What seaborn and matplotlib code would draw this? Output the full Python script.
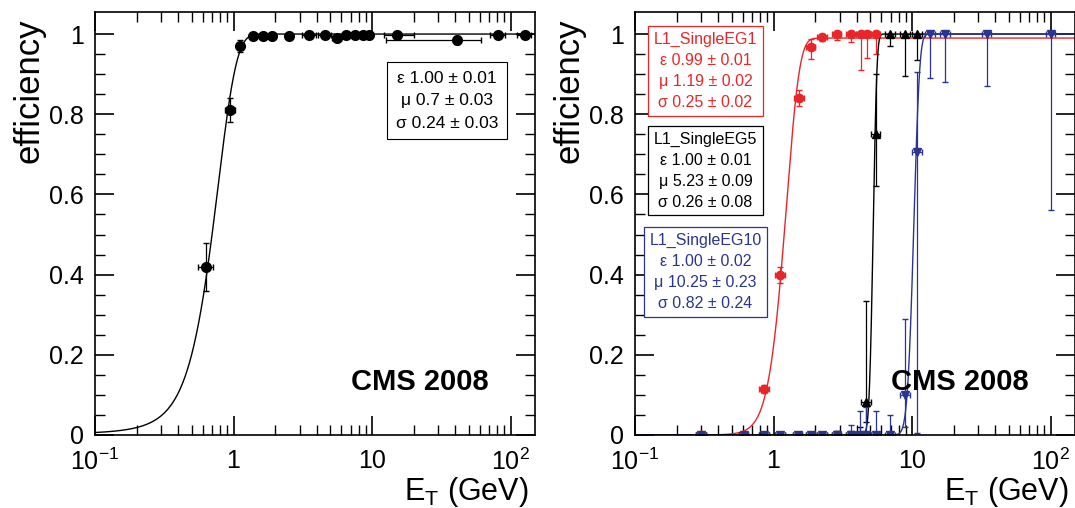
import numpy as np
import matplotlib
matplotlib.use("Agg")
import matplotlib.pyplot as plt
import seaborn as sns
from math import erf

sns.set_style("ticks")
plt.rcParams['font.family'] = ['Liberation Sans', 'DejaVu Sans']
plt.rcParams['mathtext.fontset'] = 'custom'
plt.rcParams['mathtext.rm'] = 'Liberation Sans'
for k in ['text.color', 'axes.labelcolor', 'xtick.color', 'ytick.color', 'axes.edgecolor']:
    plt.rcParams[k] = 'black'

# ---- left panel data ----
left_x = [0.63, 0.95, 1.12, 1.38, 1.63, 1.89, 2.5, 3.53, 4.54, 5.58, 6.53, 7.5, 8.6, 9.55, 15.1, 40.7, 81, 126]
left_y = [0.42, 0.81, 0.97, 0.995, 0.995, 0.995, 0.995, 0.997, 0.997, 0.99, 0.997, 0.997, 0.997, 0.997, 0.997, 0.985, 0.997, 0.997]
left_yerr = [0.06, 0.03, 0.015, 0.005, 0.005, 0.005, 0.005, 0.005, 0.005, 0.005, 0.005, 0.005, 0.005, 0.005, 0.005, 0.01, 0.005, 0.005]
left_xlo = [0.08, 0.08, 0.06, 0.05, 0.05, 0.05, 0.1, 0.4, 0.5, 0.4, 0.4, 0.4, 0.4, 0.4, 3, 28, 10, 15]
left_xhi = [0.08, 0.08, 0.06, 0.05, 0.05, 0.05, 0.1, 0.4, 0.5, 0.4, 0.4, 0.4, 0.4, 0.4, 5, 20, 10, 15]
left_fit = (1.00, 0.7, 0.24)

# ---- right panel data ----
red_x = [0.3, 0.61, 0.86, 1.12, 1.53, 1.85, 2.25, 2.85, 3.63, 4.26, 4.7, 5.45]
red_y = [0.0, 0.0, 0.115, 0.40, 0.84, 0.968, 0.993, 1.0, 1.0, 1.0, 1.0, 1.0]
red_ylo = [0.0, 0.0, 0.01, 0.02, 0.02, 0.03, 0.01, 0.015, 0.02, 0.09, 0.06, 0.05]
red_yhi = [0.003, 0.005, 0.01, 0.02, 0.02, 0.02, 0.005, 0.0, 0.0, 0.0, 0.0, 0.0]
red_fit = (0.99, 1.19, 0.25)

black_x = [0.3, 0.61, 0.86, 1.12, 1.49, 1.85, 2.25, 2.85, 3.63, 4.2, 4.66, 5.45, 6.96, 8.9, 10.9]
black_y = [0.0, 0.0, 0.0, 0.0, 0.0, 0.0, 0.0, 0.0, 0.0, 0.0, 0.083, 0.75, 1.0, 1.0, 1.0]
black_ylo = [0, 0, 0, 0, 0, 0, 0, 0, 0, 0, 0.05, 0.13, 0.03, 0.105, 0.065]
black_yhi = [0.005, 0.005, 0.005, 0.005, 0.005, 0.005, 0.005, 0.01, 0.01, 0.02, 0.25, 0.15, 0, 0, 0]
black_fit = (1.00, 5.23, 0.26)

blue_x = [0.3, 0.61, 0.86, 1.12, 1.49, 1.85, 2.25, 2.85, 3.63, 4.2, 4.66, 5.47, 6.96, 8.9, 10.9, 13.5, 17.4, 34.6, 100]
blue_y = [0.0, 0.0, 0.0, 0.0, 0.0, 0.0, 0.0, 0.0, 0.0, 0.0, 0.0, 0.0, 0.0, 0.10, 0.706, 1.0, 1.0, 1.0, 1.0]
blue_ylo = [0, 0, 0, 0, 0, 0, 0, 0, 0, 0, 0, 0, 0, 0.08, 0.7, 0.11, 0.12, 0.13, 0.44]
blue_yhi = [0.003, 0.003, 0.003, 0.003, 0.003, 0.003, 0.005, 0.01, 0.025, 0.06, 0.07, 0.06, 0.05, 0.19, 0.2, 0, 0, 0, 0]
blue_fit = (1.00, 10.25, 0.82)

RED = "#e8262a"
BLACK = "#000000"
BLUE = "#2b3591"

def fitcurve(params, xs):
    eps, mu, sig = params
    return np.array([eps / 2 * (1 + erf((x - mu) / (np.sqrt(2) * sig))) for x in xs])

fig = plt.figure(figsize=(10.75, 5.08), dpi=100)
axL = fig.add_axes([95/1075, 73/508, 440/1075, 423/508])
axR = fig.add_axes([635/1075, 73/508, 440/1075, 423/508])

xs = np.logspace(-1, np.log10(150), 1500)

def style(ax):
    ax.set_xscale("log")
    ax.set_xlim(0.1, 150)
    ax.set_ylim(0, 1.055)
    ax.set_yticks([0, 0.2, 0.4, 0.6, 0.8, 1.0])
    ax.set_yticklabels(["0", "0.2", "0.4", "0.6", "0.8", "1"])
    ax.set_yticks(np.arange(0, 1.05, 0.05), minor=True)
    ax.set_xticks([0.1, 1, 10, 100])
    ax.set_xticklabels(["$10^{-1}$", "1", "10", "$10^{2}$"])
    ax.tick_params(which="both", direction="in", top=True, right=True, labelsize=18)
    ax.tick_params(which="major", length=14, width=1.2)
    ax.tick_params(which="minor", length=7, width=1)
    ax.tick_params(axis="x", pad=10)
    ax.tick_params(axis="y", pad=8)
    for s in ax.spines.values():
        s.set_linewidth(1.2)
    ax.set_ylabel("efficiency", fontsize=25)
    ax.yaxis.set_label_coords(-0.112, 0.815)
    ax.set_xlabel("E$_\\mathrm{T}$ (GeV)", fontsize=22, ha="right")
    ax.xaxis.set_label_coords(0.985, -0.095)
    ax.text(0.895, 0.125, "CMS 2008", transform=ax.transAxes, fontsize=21,
            fontweight="bold", ha="right", va="center")

# left
sns.lineplot(x=xs, y=fitcurve(left_fit, xs), ax=axL, color="black", lw=1)
axL.errorbar(left_x, left_y, yerr=left_yerr, xerr=[left_xlo, left_xhi], fmt="o",
             color="black", ms=7, elinewidth=0.9, capsize=2)
style(axL)
axL.text(0.80, 0.79, "\u03b5 1.00 \u00b1 0.01\n\u03bc 0.7 \u00b1 0.03\n\u03c3 0.24 \u00b1 0.03",
         transform=axL.transAxes, fontsize=12.5, ha="center", va="center", linespacing=1.6,
         bbox=dict(boxstyle="square,pad=0.5", fc="white", ec="black", lw=0.8))

# right
for params, col, px, py, lo, hi, mk in [
    (red_fit, RED, red_x, red_y, red_ylo, red_yhi, "o"),
    (black_fit, BLACK, black_x, black_y, black_ylo, black_yhi, "^"),
    (blue_fit, BLUE, blue_x, blue_y, blue_ylo, blue_yhi, "v"),
]:
    sns.lineplot(x=xs, y=fitcurve(params, xs), ax=axR, color=col, lw=1)
    xerr = [np.array(px) * 0.08, np.array(px) * 0.08]
    axR.errorbar(px, py, yerr=[lo, hi], xerr=xerr, fmt=mk, color=col, ms=6,
                 elinewidth=0.9, capsize=2)
style(axR)

boxes = [
    ("L1_SingleEG1\n\u03b5 0.99 \u00b1 0.01\n\u03bc 1.19 \u00b1 0.02\n\u03c3 0.25 \u00b1 0.02", RED, 0.86),
    ("L1_SingleEG5\n\u03b5 1.00 \u00b1 0.01\n\u03bc 5.23 \u00b1 0.09\n\u03c3 0.26 \u00b1 0.08", BLACK, 0.625),
    ("L1_SingleEG10\n\u03b5 1.00 \u00b1 0.02\n\u03bc 10.25 \u00b1 0.23\n\u03c3 0.82 \u00b1 0.24", BLUE, 0.385),
]
for txt, col, yy in boxes:
    axR.text(0.16, yy, txt, transform=axR.transAxes, fontsize=11.5, color=col,
             ha="center", va="center", linespacing=1.5,
             bbox=dict(boxstyle="square,pad=0.35", fc="white", ec=col, lw=0.9))

fig.savefig("out.png", dpi=100)
